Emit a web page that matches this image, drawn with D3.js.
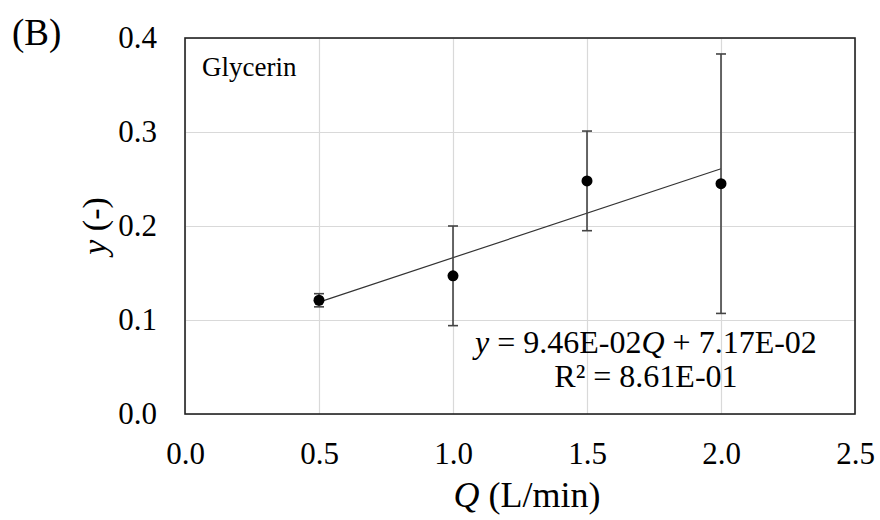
<!DOCTYPE html>
<html>
<head>
<meta charset="utf-8">
<script src="https://cdn.jsdelivr.net/npm/d3@7"></script>
<style>
  body { margin: 0; background: #fff; }
  text { font-family: "Liberation Serif", "Times New Roman", serif; fill: #000; }
</style>
</head>
<body>
<div id="chart"></div>
<script>
// Data
var flowRates = [0.5, 1.0, 1.5, 2.0];
var yMeans = [0.121, 0.147, 0.248, 0.245];
var yErrors = [0.007, 0.053, 0.053, 0.138];
var xTicks = [0.0, 0.5, 1.0, 1.5, 2.0, 2.5];
var yTicks = [0.0, 0.1, 0.2, 0.3, 0.4];
var fitSlope = 0.0946, fitIntercept = 0.0717;

var W = 880, H = 520;
var margin = { top: 38, right: 25, bottom: 106, left: 185 },
    width = W - margin.left - margin.right,
    height = H - margin.top - margin.bottom;

var svg = d3.select("#chart").append("svg")
    .attr("width", W).attr("height", H);

var g = svg.append("g")
    .attr("transform", `translate(${margin.left},${margin.top})`);

var x = d3.scaleLinear().domain([0, 2.5]).range([0, width]);
var y = d3.scaleLinear().domain([0, 0.4]).range([height, 0]);

// Grid lines
g.append("g")
    .call(d3.axisBottom(x).tickValues(xTicks).tickSize(height).tickFormat(""))
    .call(s => s.select(".domain").remove())
    .call(s => s.selectAll("line").attr("stroke", "#d9d9d9").attr("stroke-width", 1.2));
g.append("g")
    .call(d3.axisLeft(y).tickValues(yTicks).tickSize(-width).tickFormat(""))
    .call(s => s.select(".domain").remove())
    .call(s => s.selectAll("line").attr("stroke", "#d9d9d9").attr("stroke-width", 1.2));

// Axis labels
var xAxis = g.append("g")
    .attr("transform", `translate(0,${height})`)
    .call(d3.axisBottom(x).tickValues(xTicks).tickSize(0).tickPadding(28).tickFormat(d3.format(".1f")));
xAxis.select(".domain").remove();
xAxis.selectAll("text").style("font-size", "31px").style("font-family", "Liberation Serif");

var yAxis = g.append("g")
    .call(d3.axisLeft(y).tickValues(yTicks).tickSize(0).tickPadding(28).tickFormat(d3.format(".1f")));
yAxis.select(".domain").remove();
yAxis.selectAll("text").style("font-size", "31px").style("font-family", "Liberation Serif");

// Plot border
g.append("rect")
    .attr("x", 0).attr("y", 0)
    .attr("width", width).attr("height", height)
    .attr("fill", "none").attr("stroke", "#222").attr("stroke-width", 1.6);

// Trend line
g.append("line")
    .attr("x1", x(flowRates[0])).attr("y1", y(fitSlope * flowRates[0] + fitIntercept))
    .attr("x2", x(flowRates[3])).attr("y2", y(fitSlope * flowRates[3] + fitIntercept))
    .attr("stroke", "#333").attr("stroke-width", 1.2);

// Error bars
var pts = flowRates.map((q, i) => ({ q: q, m: yMeans[i], e: yErrors[i] }));
var eb = g.selectAll(".err").data(pts).enter().append("g").attr("class", "err")
    .attr("stroke", "#444").attr("stroke-width", 1.6);
eb.append("line")
    .attr("x1", d => x(d.q)).attr("x2", d => x(d.q))
    .attr("y1", d => y(d.m - d.e)).attr("y2", d => y(d.m + d.e));
eb.append("line")
    .attr("x1", d => x(d.q) - 5).attr("x2", d => x(d.q) + 5)
    .attr("y1", d => y(d.m + d.e)).attr("y2", d => y(d.m + d.e));
eb.append("line")
    .attr("x1", d => x(d.q) - 5).attr("x2", d => x(d.q) + 5)
    .attr("y1", d => y(d.m - d.e)).attr("y2", d => y(d.m - d.e));

// Points
g.selectAll(".pt").data(pts).enter().append("circle")
    .attr("class", "pt")
    .attr("cx", d => x(d.q)).attr("cy", d => y(d.m))
    .attr("r", 5.5).attr("fill", "#000");

// Text annotations
g.append("text").attr("x", 17).attr("y", 38)
    .style("font-size", "27px").text("Glycerin");

var eq = g.append("text").attr("x", x(1.72)).attr("y", 315)
    .attr("text-anchor", "middle").style("font-size", "32px");
eq.append("tspan").style("font-style", "italic").text("y");
eq.append("tspan").text(" = 9.46E-02");
eq.append("tspan").style("font-style", "italic").text("Q");
eq.append("tspan").text(" + 7.17E-02");

g.append("text").attr("x", x(1.72)).attr("y", 349)
    .attr("text-anchor", "middle").style("font-size", "32px")
    .text("R² = 8.61E-01");

svg.append("text").attr("x", 12).attr("y", 45)
    .style("font-size", "37px").text("(B)");

var xt = svg.append("text")
    .attr("x", 527).attr("y", 507)
    .attr("text-anchor", "middle").style("font-size", "36px");
xt.append("tspan").style("font-style", "italic").text("Q");
xt.append("tspan").text(" (L/min)");

var yt = svg.append("text")
    .attr("transform", `translate(106,${margin.top + height / 2}) rotate(-90)`)
    .attr("text-anchor", "middle").style("font-size", "34px");
yt.append("tspan").style("font-style", "italic").text("y");
yt.append("tspan").text(" (-)");
</script>
</body>
</html>
